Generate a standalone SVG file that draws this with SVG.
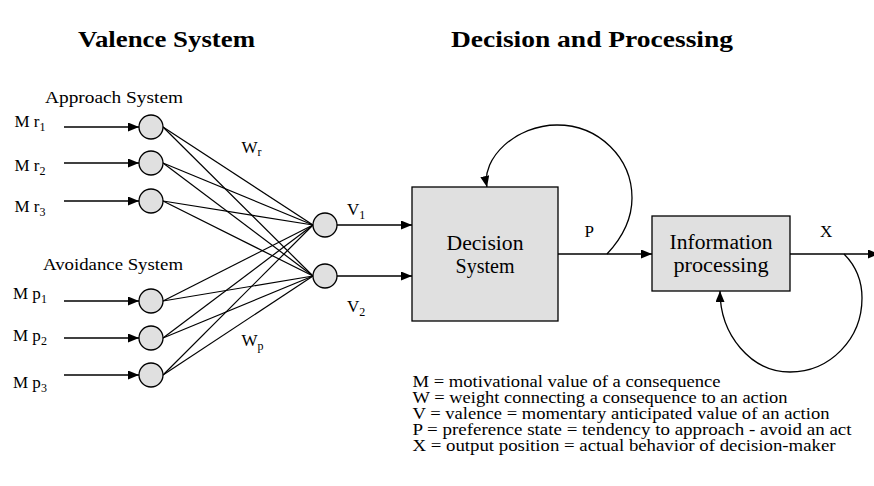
<svg xmlns="http://www.w3.org/2000/svg" width="874" height="486" viewBox="0 0 874 486">
<style>
text{font-family:"Liberation Serif","Times New Roman",serif;fill:#000}
.title{font-size:24px;font-weight:bold}
.lbl{font-size:17px}
.box{font-size:20px}
.leg{font-size:16px}
.sub{font-size:12px}
.ln{stroke:#000;stroke-width:1.3;fill:none}
.node{fill:#e0e0e0;stroke:#000;stroke-width:1.3}
</style>
<defs>
<marker id="ah" markerUnits="userSpaceOnUse" markerWidth="11" markerHeight="9" refX="11" refY="4.5" orient="auto">
<path d="M0,0 L11,4.5 L0,9 z" fill="#000"/>
</marker>
</defs>
<g id="titles">
<text class="title" x="78" y="47" textLength="177" lengthAdjust="spacingAndGlyphs">Valence System</text>
<text class="title" x="451" y="47" textLength="282" lengthAdjust="spacingAndGlyphs">Decision and Processing</text>
</g>
<g id="group-labels">
<text class="lbl" x="45" y="103" textLength="138" lengthAdjust="spacingAndGlyphs">Approach System</text>
<text class="lbl" x="43" y="270" textLength="140" lengthAdjust="spacingAndGlyphs">Avoidance System</text>
</g>
<g id="input-labels">
<text class="lbl" x="14.5" y="127">M r<tspan class="sub" dy="4">1</tspan></text>
<text class="lbl" x="14.5" y="171">M r<tspan class="sub" dy="4">2</tspan></text>
<text class="lbl" x="14.5" y="212">M r<tspan class="sub" dy="4">3</tspan></text>
<text class="lbl" x="13" y="299">M p<tspan class="sub" dy="4">1</tspan></text>
<text class="lbl" x="13" y="341">M p<tspan class="sub" dy="4">2</tspan></text>
<text class="lbl" x="13" y="388">M p<tspan class="sub" dy="4">3</tspan></text>
</g>
<g id="connectors">
<line class="ln" x1="64" y1="127" x2="139" y2="127" marker-end="url(#ah)"/>
<line class="ln" x1="64" y1="163" x2="139" y2="163" marker-end="url(#ah)"/>
<line class="ln" x1="64" y1="201" x2="139" y2="201" marker-end="url(#ah)"/>
<line class="ln" x1="64" y1="301" x2="139" y2="301" marker-end="url(#ah)"/>
<line class="ln" x1="64" y1="338" x2="139" y2="338" marker-end="url(#ah)"/>
<line class="ln" x1="64" y1="375" x2="139" y2="375" marker-end="url(#ah)"/>
<g stroke="#000" stroke-width="1.2">
<line x1="163" y1="127" x2="313" y2="225"/><line x1="163" y1="127" x2="313" y2="276"/>
<line x1="163" y1="163" x2="313" y2="225"/><line x1="163" y1="163" x2="313" y2="276"/>
<line x1="163" y1="201" x2="313" y2="225"/><line x1="163" y1="201" x2="313" y2="276"/>
<line x1="163" y1="301" x2="313" y2="225"/><line x1="163" y1="301" x2="313" y2="276"/>
<line x1="163" y1="338" x2="313" y2="225"/><line x1="163" y1="338" x2="313" y2="276"/>
<line x1="163" y1="375" x2="313" y2="225"/><line x1="163" y1="375" x2="313" y2="276"/>
</g>
<line class="ln" x1="337" y1="225" x2="412" y2="225" marker-end="url(#ah)"/>
<line class="ln" x1="337" y1="276" x2="412" y2="276" marker-end="url(#ah)"/>
<line class="ln" x1="558" y1="254" x2="652" y2="254" marker-end="url(#ah)"/>
<line class="ln" x1="790" y1="254" x2="879" y2="254" marker-end="url(#ah)"/>
<path class="ln" d="M607,254 C622,238 632,220 632,198 C632,158 599,125 557,125 C516,125 481,158 487,187" marker-end="url(#ah)"/>
<path class="ln" d="M844,254 C856,266 862,280 862,298 C862,339 830,372 790,372 C751,372 720,335 720,291" marker-end="url(#ah)"/>
</g>
<g id="input-nodes">
<circle id="r1" class="node" cx="151" cy="127" r="12"/>
<circle id="r2" class="node" cx="151" cy="163" r="12"/>
<circle id="r3" class="node" cx="151" cy="201" r="12"/>
<circle id="p1" class="node" cx="151" cy="301" r="12"/>
<circle id="p2" class="node" cx="151" cy="338" r="12"/>
<circle id="p3" class="node" cx="151" cy="375" r="12"/>
</g>
<g id="valence-nodes">
<circle id="v1" class="node" cx="325" cy="225" r="12"/>
<circle id="v2" class="node" cx="325" cy="276" r="12"/>
</g>
<g id="weight-labels">
<text class="lbl" x="241.5" y="153">W<tspan class="sub" dy="3">r</tspan></text>
<text class="lbl" x="241.5" y="346">W<tspan class="sub" dy="4">p</tspan></text>
<text class="lbl" x="347" y="215">V<tspan class="sub" dy="4">1</tspan></text>
<text class="lbl" x="347" y="312">V<tspan class="sub" dy="4">2</tspan></text>
<text class="lbl" x="584.5" y="237">P</text>
<text class="lbl" x="820" y="237">X</text>
</g>
<g id="decision-system">
<rect class="node" x="412" y="187" width="146" height="134"/>
<text class="box" x="485" y="250" text-anchor="middle" textLength="77" lengthAdjust="spacingAndGlyphs">Decision</text>
<text class="box" x="485" y="273" text-anchor="middle">System</text>
</g>
<g id="information-processing">
<rect class="node" x="652" y="216" width="138" height="75"/>
<text class="box" x="721" y="249" text-anchor="middle" textLength="103" lengthAdjust="spacingAndGlyphs">Information</text>
<text class="box" x="721" y="272" text-anchor="middle" textLength="95" lengthAdjust="spacingAndGlyphs">processing</text>
</g>
<g id="legend">
<text class="leg" x="412.5" y="387" textLength="308" lengthAdjust="spacingAndGlyphs">M = motivational value of a consequence</text>
<text class="leg" x="412.5" y="403" textLength="375" lengthAdjust="spacingAndGlyphs">W = weight connecting a consequence to an action</text>
<text class="leg" x="412.5" y="419" textLength="417" lengthAdjust="spacingAndGlyphs">V = valence = momentary anticipated value of an action</text>
<text class="leg" x="412.5" y="435" textLength="439" lengthAdjust="spacingAndGlyphs">P = preference state = tendency to approach - avoid an act</text>
<text class="leg" x="412.5" y="451" textLength="423" lengthAdjust="spacingAndGlyphs">X = output position = actual behavior of decision-maker</text>
</g>
</svg>
